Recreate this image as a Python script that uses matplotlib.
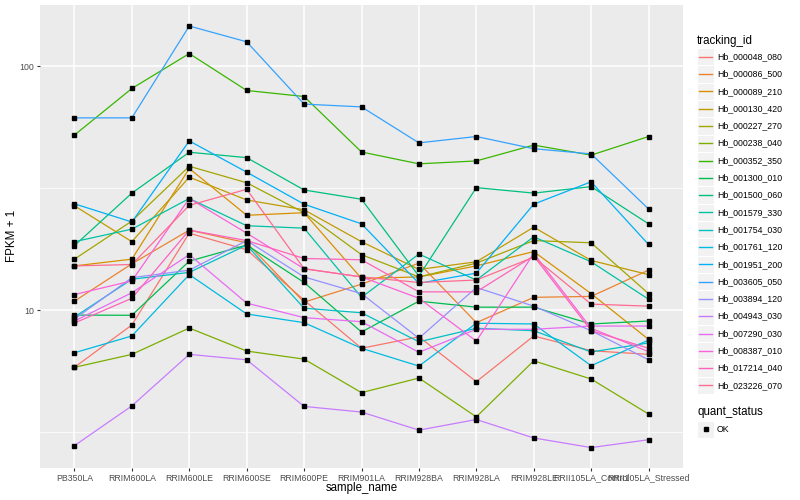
import numpy as np
import matplotlib
matplotlib.use('Agg')
import matplotlib.pyplot as plt
from matplotlib.patches import Rectangle
from matplotlib.ticker import NullFormatter

plt.rcParams['font.family'] = ['Liberation Sans', 'DejaVu Sans']

##### data (FPKM + 1)
samples = ['PB350LA', 'RRIM600LA', 'RRIM600LE', 'RRIM600SE', 'RRIM600PE', 'RRIM901LA',
           'RRIM928BA', 'RRIM928LA', 'RRIM928LE', 'RRII105LA_Control', 'RRII105LA_Stressed']

hb_000048_080 = [5.84, 8.71, 20.7, 17.7, 11.0, 6.99, 7.79, 5.10, 7.85, 6.83, 6.60]
hb_000086_500 = [10.9, 15.5, 21.3, 18.9, 10.8, 12.8, 15.6, 8.90, 11.3, 11.4, 14.6]
hb_000089_210 = [15.2, 16.2, 38.1, 24.5, 25.1, 13.5, 13.7, 15.2, 17.4, 11.7, 7.60]
hb_000130_420 = [26.8, 19.1, 35.1, 28.3, 25.8, 19.1, 14.7, 15.8, 21.9, 16.0, 14.0]
hb_000227_270 = [16.2, 23.2, 38.9, 33.3, 25.1, 16.9, 13.7, 15.6, 19.3, 18.9, 11.7]
hb_000238_040 = [5.84, 6.60, 8.46, 6.81, 6.31, 4.60, 5.28, 3.66, 6.21, 5.23, 3.76]
hb_000352_350 = [52.2, 81.0, 112.6, 79.5, 75.1, 44.5, 39.8, 40.9, 47.5, 43.2, 51.5]
hb_001300_010 = [9.56, 9.54, 15.9, 18.5, 13.0, 8.15, 10.9, 10.3, 10.3, 8.79, 9.04]
hb_001500_060 = [18.4, 30.2, 44.4, 42.2, 31.1, 28.5, 13.8, 31.8, 30.2, 32.1, 22.6]
hb_001579_330 = [19.1, 21.5, 28.7, 22.2, 21.7, 11.3, 17.0, 13.3, 20.0, 15.8, 11.1]
hb_001754_030 = [9.39, 13.4, 14.3, 18.5, 10.2, 9.77, 7.43, 8.44, 8.25, 6.75, 7.35]
hb_001761_120 = [6.70, 7.85, 14.0, 9.66, 8.90, 6.99, 5.91, 8.85, 8.79, 5.93, 7.55]
hb_001951_200 = [27.3, 23.0, 49.4, 36.8, 27.2, 22.6, 12.9, 14.2, 27.2, 33.6, 18.6]
hb_003605_050 = [61.4, 61.4, 146.0, 125.8, 69.9, 68.1, 48.5, 51.5, 45.9, 43.7, 26.0]
hb_003894_120 = [9.21, 13.6, 14.6, 19.3, 13.7, 11.7, 7.68, 12.4, 10.4, 8.25, 6.27]
hb_004943_030 = [2.79, 4.06, 6.60, 6.27, 4.04, 3.83, 3.23, 3.57, 3.00, 2.74, 2.95]
hb_007290_030 = [9.04, 11.8, 16.9, 10.7, 9.33, 8.98, 6.73, 8.36, 8.36, 8.62, 8.62]
hb_008387_010 = [11.6, 13.2, 28.7, 20.7, 14.8, 13.7, 11.2, 7.48, 17.1, 8.44, 6.77]
hb_017214_040 = [8.87, 11.2, 21.3, 19.3, 16.3, 16.1, 11.9, 11.9, 16.7, 8.25, 6.99]
hb_023226_070 = [15.2, 15.4, 26.9, 31.3, 14.8, 13.7, 13.0, 13.3, 16.5, 10.6, 10.4]

tracking_ids = ['Hb_000048_080', 'Hb_000086_500', 'Hb_000089_210', 'Hb_000130_420', 'Hb_000227_270',
                'Hb_000238_040', 'Hb_000352_350', 'Hb_001300_010', 'Hb_001500_060', 'Hb_001579_330',
                'Hb_001754_030', 'Hb_001761_120', 'Hb_001951_200', 'Hb_003605_050', 'Hb_003894_120',
                'Hb_004943_030', 'Hb_007290_030', 'Hb_008387_010', 'Hb_017214_040', 'Hb_023226_070']
fpkm = [hb_000048_080, hb_000086_500, hb_000089_210, hb_000130_420, hb_000227_270,
        hb_000238_040, hb_000352_350, hb_001300_010, hb_001500_060, hb_001579_330,
        hb_001754_030, hb_001761_120, hb_001951_200, hb_003605_050, hb_003894_120,
        hb_004943_030, hb_007290_030, hb_008387_010, hb_017214_040, hb_023226_070]

# ggplot default hue palette, 20 levels
colours = ['#F8766D', '#EA8331', '#D89000', '#C09B00', '#A3A500', '#7CAE00', '#39B600', '#00BB4E',
           '#00BF7D', '#00C1A3', '#00BFC4', '#00BAE0', '#00B0F6', '#35A2FF', '#9590FF', '#C77CFF',
           '#E76BF3', '#FA62DB', '#FF62BC', '#FF6C91']

fig = plt.figure(figsize=(8, 5), dpi=100)
ax = fig.add_axes([40/800, 1-468/500, (683-40)/800, (468-5)/500])
ax.set_facecolor('#EBEBEB')

x = np.arange(len(samples))
for vals, col in zip(fpkm, colours):
	ax.plot(x, vals, color=col, lw=0.9, zorder=3)
for vals in fpkm:
	ax.plot(x, vals, ls='none', marker='s', ms=2.2, color='black', zorder=4)

ax.set_yscale('log')
ax.set_ylim(2.26, 178)
ax.set_xlim(-0.6, len(samples) - 0.4)
ax.set_yticks([10, 100])
ax.set_yticklabels(['10', '100'])
ax.set_yticks([10**0.5, 10**1.5], minor=True)
ax.yaxis.set_minor_formatter(NullFormatter())
ax.set_xticks(x)
ax.set_xticklabels(samples)

ax.grid(True, which='major', color='white', lw=1.1, zorder=0)
ax.grid(True, which='minor', axis='y', color='white', lw=0.55, zorder=0)
ax.set_axisbelow(True)
for s in ax.spines.values():
	s.set_visible(False)
ax.tick_params(which='major', length=2.5, width=0.8, color='#333333', labelcolor='#4D4D4D', labelsize=6.3, pad=1.5)
ax.tick_params(which='minor', length=0)

fig.text(361.5/800, 1-488/500, 'sample_name', ha='center', va='center', fontsize=8.3)
fig.text(12/800, 1-236/500, 'FPKM + 1', ha='center', va='center', rotation=90, fontsize=8.3)

# legend drawn by hand, ggplot style
lg = fig.add_axes([0, 0, 1, 1], facecolor='none')
lg.set_xlim(0, 800)
lg.set_ylim(500, 0)
lg.axis('off')
lg.text(697, 41, 'tracking_id', va='center', ha='left', fontsize=8.3)
for i, (name, col) in enumerate(zip(tracking_ids, colours)):
	yc = 56.7 + 17.3*i
	lg.add_patch(Rectangle((697, yc - 8.65), 17.3, 17.3, facecolor='#F2F2F2', edgecolor='white', lw=0.8))
	lg.plot([699, 712], [yc, yc], color=col, lw=1)
	lg.text(717, yc, name, va='center', ha='left', fontsize=6.3)
lg.text(697, 412, 'quant_status', va='center', ha='left', fontsize=8.3)
lg.add_patch(Rectangle((697, 429.3 - 8.65), 17.3, 17.3, facecolor='#F2F2F2', edgecolor='white', lw=0.8))
lg.plot([705.6], [429.3], marker='s', ms=2.2, color='black')
lg.text(717, 429.3, 'OK', va='center', ha='left', fontsize=6.3)

fig.savefig('out.png', dpi=100)
